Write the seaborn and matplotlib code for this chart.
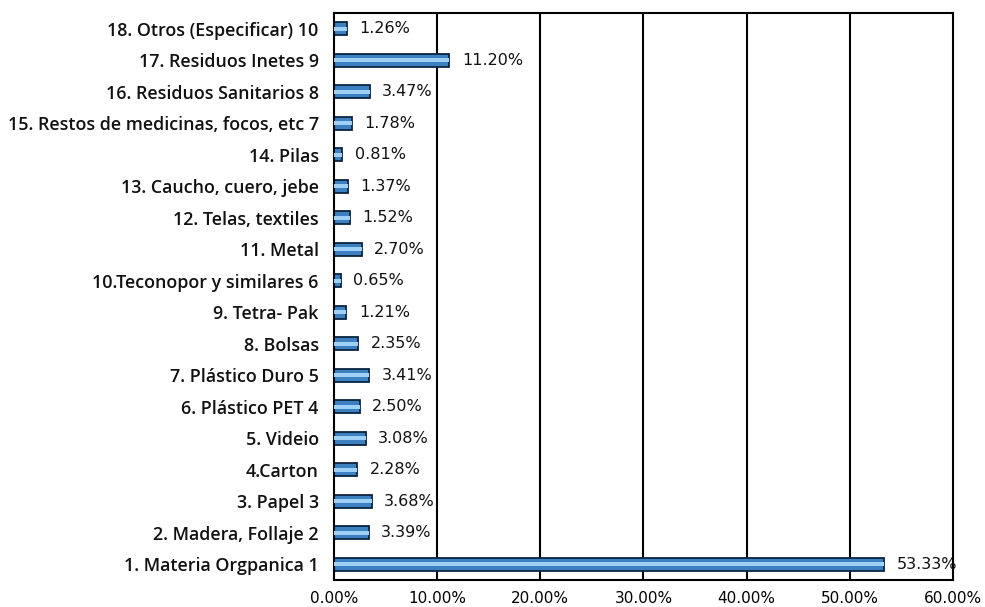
import matplotlib
matplotlib.use("Agg")
import matplotlib.pyplot as plt
import seaborn as sns
import pandas as pd

categories = [
    "18. Otros (Especificar) 10",
    "17. Residuos Inetes 9",
    "16. Residuos Sanitarios 8",
    "15. Restos de medicinas, focos, etc 7",
    "14. Pilas",
    "13. Caucho, cuero, jebe",
    "12. Telas, textiles",
    "11. Metal",
    "10.Teconopor y similares 6",
    "9. Tetra- Pak",
    "8. Bolsas",
    "7. Plástico Duro 5",
    "6. Plástico PET 4",
    "5. Videio",
    "4.Carton",
    "3. Papel 3",
    "2. Madera, Follaje 2",
    "1. Materia Orgpanica 1",
]
values = [1.26, 11.20, 3.47, 1.78, 0.81, 1.37, 1.52, 2.70, 0.65, 1.21,
          2.35, 3.41, 2.50, 3.08, 2.28, 3.68, 3.39, 53.33]
xticks = [0, 10, 20, 30, 40, 50, 60]

df = pd.DataFrame({"cat": categories, "val": values})

sns.set_style("white")
plt.rcParams['font.family'] = ['DejaVu Sans']

fig = plt.figure(figsize=(9.85, 6.07), dpi=100)
ax = fig.add_axes([0.339, 0.0445, 0.6285, 0.9341])

# gridlines behind
for xv in xticks[1:-1]:
    ax.axvline(xv, color="black", lw=1.5, zorder=0)

sns.barplot(data=df, y="cat", x="val", order=categories, orient="h",
            color="#3d80c0", saturation=1, width=0.4,
            edgecolor="#0c2340", linewidth=1.3, ax=ax, zorder=2)
sns.barplot(data=df, y="cat", x="val", order=categories, orient="h",
            color="#9fd0f5", saturation=1, width=0.12,
            linewidth=0, ax=ax, zorder=3)

for i, v in enumerate(values):
    ax.text(v + 1.2, i, f"{v:.2f}%", va="center", ha="left",
            fontsize=11.5, fontfamily="DejaVu Sans", color="#111111")

ax.set_xlim(0, 60)
ax.set_ylim(len(categories) - 0.5, -0.5)
ax.set_xticks(xticks)
ax.set_xticklabels([f"{t:.2f}%" for t in xticks], fontsize=11, fontfamily="DejaVu Sans")
ax.set_yticks(range(len(categories)))
ax.set_yticklabels(categories, fontsize=12.9, fontfamily="Open Sans", fontweight="semibold",
                   color="#111111")
ax.set_xlabel("")
ax.set_ylabel("")
ax.tick_params(axis="y", length=0, pad=11)
ax.tick_params(axis="x", length=4, width=1.5, direction="out", pad=4, colors="black")
for s in ax.spines.values():
    s.set_visible(True)
    s.set_color("black")
    s.set_linewidth(1.5)

fig.savefig("out.png", dpi=100)
